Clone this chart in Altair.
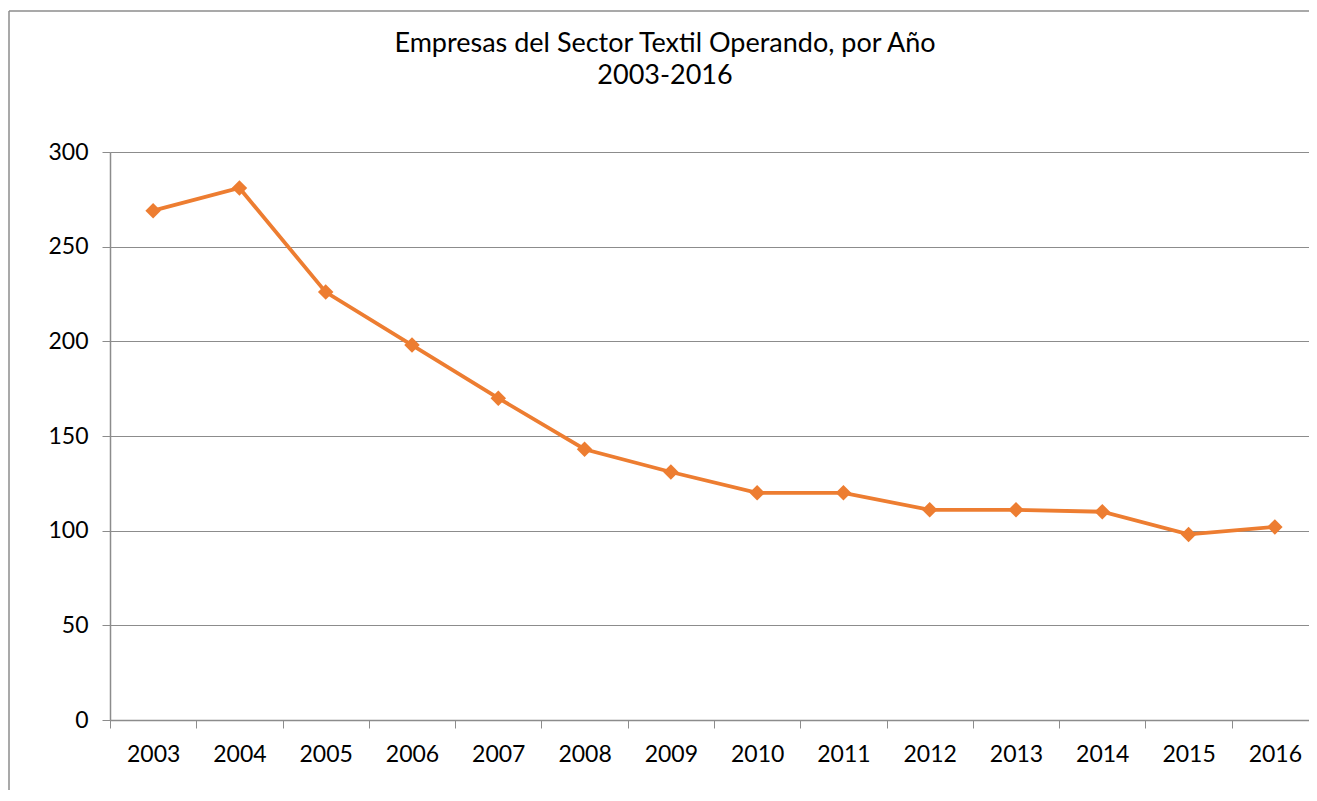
import altair as alt
import pandas as pd

years = ["2003", "2004", "2005", "2006", "2007", "2008", "2009",
         "2010", "2011", "2012", "2013", "2014", "2015", "2016"]
empresas = [269, 281, 226, 198, 170, 143, 131, 120, 120, 111, 111, 110, 98, 102]
title_lines = ["Empresas del Sector Textil Operando, por Año", "2003-2016"]
y_ticks = [0, 50, 100, 150, 200, 250, 300]

df = pd.DataFrame({"year": years, "value": empresas})

W, H = 1199, 568
FONT = "Lato"
GRAY = "#8c8c8c"
ORANGE = "#ED7D31"

x_enc = alt.X(
    "year:N",
    sort=years,
    scale=alt.Scale(paddingInner=0, paddingOuter=0, range=[0, 1208]),
    axis=alt.Axis(
        title=None, labelAngle=0, tickBand="extent", tickSize=8,
        tickColor=GRAY, domainColor=GRAY, domainWidth=1.5,
        labelFont=FONT, labelFontSize=23, labelColor="#000000",
        labelPadding=15, grid=False,
    ),
)
y_enc = alt.Y(
    "value:Q",
    scale=alt.Scale(domain=[0, 300], nice=False),
    axis=alt.Axis(
        title=None, values=y_ticks, tickSize=8, tickColor=GRAY,
        domainColor=GRAY, domainWidth=1.5, gridColor=GRAY, gridWidth=1,
        labelFont=FONT, labelFontSize=23, labelColor="#000000",
        labelPadding=14,
    ),
)

line = alt.Chart(df).mark_line(
    color=ORANGE, strokeWidth=3.8,
    point=alt.OverlayMarkDef(shape="diamond", size=240, filled=True,
                             color=ORANGE, opacity=1),
).encode(x=x_enc, y=y_enc)

one = pd.DataFrame({"a": [0]})
frame_left = alt.Chart(one).mark_rule(color=GRAY, strokeWidth=1.5).encode(
    x=alt.value(-101), y=alt.value(-141), y2=alt.value(H + 80))
frame_top = alt.Chart(one).mark_rule(color=GRAY, strokeWidth=1.5).encode(
    x=alt.value(-101), x2=alt.value(W), y=alt.value(-141))

t1 = alt.Chart(pd.DataFrame({"t": [title_lines[0]]})).mark_text(
    font=FONT, fontSize=27, color="#000000", align="center", baseline="middle"
).encode(text="t:N", x=alt.value(555), y=alt.value(-108))
t2 = alt.Chart(pd.DataFrame({"t": [title_lines[1]]})).mark_text(
    font=FONT, fontSize=27, color="#000000", align="center", baseline="middle"
).encode(text="t:N", x=alt.value(555), y=alt.value(-76))

chart = alt.layer(frame_left, frame_top, line, t1, t2).properties(
    width=W, height=H,
    autosize=alt.AutoSizeParams(type="none"),
    padding={"left": 102, "top": 144, "right": 0, "bottom": 70},
).configure_view(stroke=None).configure(background="white")

chart.save("out.html", embed_options={"renderer": "svg", "actions": False})
